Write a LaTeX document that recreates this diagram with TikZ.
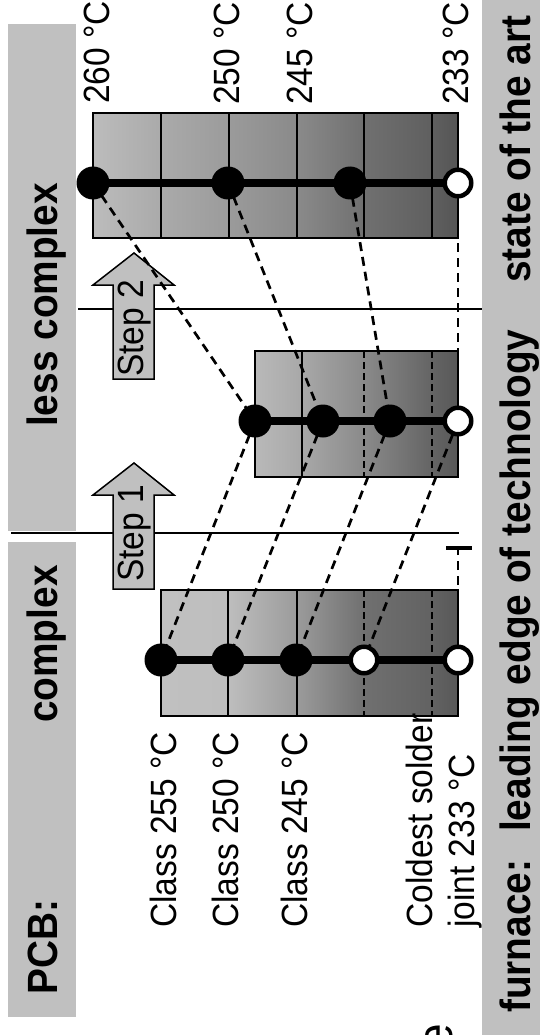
\documentclass[tikz,border=0pt]{standalone}
\usepackage{fontspec}
\setmainfont{Liberation Sans}
\pgfdeclarelayer{bg}
\pgfdeclarelayer{mid}
\pgfsetlayers{bg,mid,main}
\newcommand{\vs}[1]{\scalebox{1}[1.09]{#1}}
\definecolor{barg}{RGB}{192,192,192}
\definecolor{g192}{RGB}{192,192,192}
\definecolor{g190}{RGB}{190,190,190}
\definecolor{g188}{RGB}{188,188,188}
\definecolor{g185}{RGB}{185,185,185}
\definecolor{g170}{RGB}{170,170,170}
\definecolor{g168}{RGB}{168,168,168}
\definecolor{g155}{RGB}{155,155,155}
\definecolor{g138}{RGB}{138,138,138}
\definecolor{g112}{RGB}{112,112,112}
\definecolor{g100}{RGB}{100,100,100}
\definecolor{g98}{RGB}{98,98,98}
\definecolor{g95}{RGB}{95,95,95}
\definecolor{g88}{RGB}{88,88,88}
\definecolor{g85}{RGB}{85,85,85}
\newcommand{\shseg}[6]{\path[left color=#5,right color=#6] (#1,#3) rectangle (#2,#4);}
\begin{document}
\begin{tikzpicture}[x=1pt,y=-1pt,
  lbl/.style={rotate=90, anchor=base west, inner sep=0pt, font=\fontsize{33.5}{40}\selectfont},
  blbl/.style={rotate=90, anchor=base west, inner sep=0pt, font=\fontsize{38.8}{46}\selectfont\bfseries},
  fdot/.style={circle, fill=black, minimum size=33pt, inner sep=0pt},
  odot/.style={circle, draw=black, fill=white, line width=4.5pt, minimum size=26.5pt, inner sep=0pt},
  conn/.style={line width=2.7pt, dash pattern=on 9pt off 6pt},
  rod/.style={line width=8.5pt},
  boxline/.style={line width=2pt},
  celld/.style={line width=1.8pt, dash pattern=on 7pt off 4pt},
  sep/.style={line width=2pt},
  arrowbox/.style={fill=barg, draw=black, line width=1.5pt, line join=miter},
]
\clip (0,0) rectangle (540,1035);
\begin{pgfonlayer}{bg}
  \fill[white] (0,0) rectangle (540,1035);
  % side bars
  \fill[barg] (8,24) rectangle (76,531);
  \fill[barg] (8,542) rectangle (76,1017);
  \fill[barg] (482,0) rectangle (540,1035);
  % separator lines
  \draw[sep] (78,309) -- (482,309);
  \draw[sep] (11,533) -- (459,533);
  % top box (state of the art)
  \shseg{93}{161}{113}{238}{g188}{g170}
  \shseg{161}{229}{113}{238}{g170}{g155}
  \shseg{229}{297}{113}{238}{g155}{g138}
  \shseg{297}{364}{113}{238}{g138}{g112}
  \shseg{364}{432}{113}{238}{g112}{g95}
  \shseg{432}{458}{113}{238}{g95}{g85}
  \draw[boxline] (93,113) rectangle (458,238);
  \foreach \xx in {161,229,297,364,432} \draw[boxline] (\xx,113) -- (\xx,238);
  % middle box (leading edge)
  \shseg{255}{302}{351}{477}{g185}{g168}
  \shseg{302}{364}{351}{477}{g168}{g138}
  \shseg{364}{432}{351}{477}{g138}{g100}
  \shseg{432}{458}{351}{477}{g100}{g88}
  \draw[boxline] (255,351) rectangle (458,477);
  \draw[boxline] (302,351) -- (302,477);
  \draw[celld] (364,351) -- (364,477);
  \draw[celld] (432,351) -- (432,477);
  % bottom box (complex)
  \shseg{161}{228}{590}{716}{g192}{g190}
  \shseg{228}{297}{590}{716}{g190}{g155}
  \shseg{297}{364}{590}{716}{g155}{g112}
  \shseg{364}{432}{590}{716}{g112}{g98}
  \shseg{432}{458}{590}{716}{g98}{g88}
  \draw[boxline] (161,590) rectangle (458,716);
  \draw[boxline] (228,590) -- (228,716);
  \draw[boxline] (297,590) -- (297,716);
  \draw[celld] (364,590) -- (364,716);
  \draw[celld] (432,590) -- (432,716);
  % step arrows
  \draw[arrowbox] (134,253) -- (174,285) -- (154,285) -- (154,379) -- (113,379) -- (113,285) -- (93,285) -- cycle;
  \draw[arrowbox] (134,463) -- (174,495) -- (154,495) -- (154,589) -- (113,589) -- (113,495) -- (93,495) -- cycle;
\end{pgfonlayer}

% dots
\node[fdot] (t1) at (93,183) {};
\node[fdot] (t2) at (228,183) {};
\node[fdot] (t3) at (350,183) {};
\node[odot] (t4) at (458,183) {};
\node[fdot] (m1) at (255,421) {};
\node[fdot] (m2) at (323,421) {};
\node[fdot] (m3) at (390,421) {};
\node[odot] (m4) at (458,421) {};
\node[fdot] (b1) at (161,660) {};
\node[fdot] (b2) at (228,660) {};
\node[fdot] (b3) at (296,660) {};
\node[odot] (b4) at (364,660) {};
\node[odot] (b5) at (458,660) {};
\coordinate (tick) at (458,548);
\coordinate (tickl) at (446,548);
\coordinate (tickr) at (472,548);

\begin{pgfonlayer}{mid}
  \draw[rod] (t1.center) -- (t4.center);
  \draw[rod] (m1.center) -- (m4.center);
  \draw[rod] (b1.center) -- (b5.center);
  \draw[conn] (t1.center) -- (m1.center);
  \draw[conn] (t2.center) -- (m2.center);
  \draw[conn] (t3.center) -- (m3.center);
  \draw[conn] (t4.center) -- (m4.center);
  \draw[conn] (m1.center) -- (b1.center);
  \draw[conn] (m2.center) -- (b2.center);
  \draw[conn] (m3.center) -- (b3.center);
  \draw[conn] (m4.center) -- (b4.center);
  \draw[conn] (b5.center) -- (tick);
  \draw[line width=3.5pt] (tickl) -- (tickr);
\end{pgfonlayer}

% step labels
\node[lbl] (s2) at (143,377) {\vs{Step 2}};
\node[lbl] (s1) at (143,582) {\vs{Step 1}};

% temperature labels (top)
\node[lbl] (l260) at (109,104) {\vs{260 °C}};
\node[lbl] (l250) at (239,105) {\vs{250 °C}};
\node[lbl] (l245) at (312,105) {\vs{245 °C}};
\node[lbl] (l233) at (468,105) {\vs{233 °C}};

% class labels (bottom)
\node[lbl] (c255) at (176,928) {\vs{Class 255 °C}};
\node[lbl] (c250) at (238,928) {\vs{Class 250 °C}};
\node[lbl] (c245) at (307,928) {\vs{Class 245 °C}};
\node[lbl] (cold1) at (432,928) {\vs{Coldest solder}};
\node[lbl] (cold2) at (474,928) {\vs{joint 233 °C}};
\node[rotate=90, anchor=base east, inner sep=0pt, font=\fontsize{46}{50}\selectfont] (frag) at (452,1024) {\vs{e}};

% bar labels
\node[blbl] (pcb) at (57,995) {\vs{PCB:}};
\node[blbl] (cx) at (57,723) {\vs{complex}};
\node[blbl] (lcx) at (57,427) {\vs{less complex}};
\node[blbl] (fur) at (530,1013) {\vs{furnace:}};
\node[blbl] (lead) at (530,832) {\vs{leading edge of technology}};
\node[blbl] (sota) at (530,283) {\vs{state of the art}};
\end{tikzpicture}
\end{document}
